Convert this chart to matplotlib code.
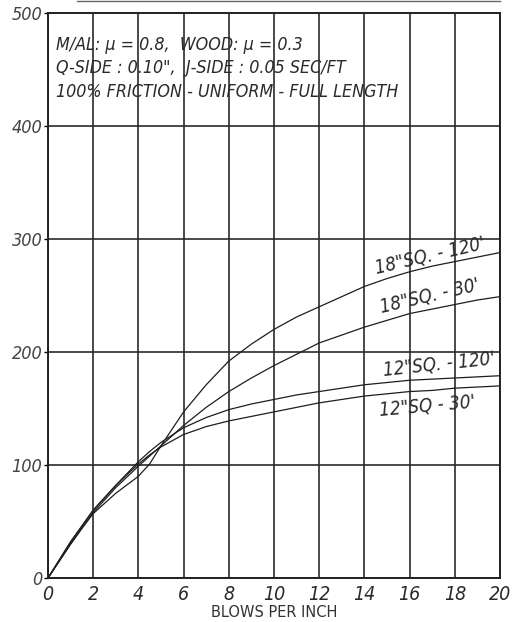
import numpy as np
import matplotlib.pyplot as plt
from matplotlib.lines import Line2D

# blows per inch (shared x for all four curves)
blows = [0, 0.5, 1, 1.5, 2, 3, 4, 4.5, 5, 6, 7, 8, 9, 10, 11, 12, 13, 14, 15, 16, 17, 18, 19, 20]

# ultimate capacity, one list per pile
sq18_120 = [0, 15, 30, 44, 57, 75, 90, 101, 117, 147, 171, 192, 207, 220, 231, 240, 249, 258, 265, 271, 276, 280, 284, 288]
sq18_30 = [0, 15, 30, 44, 58, 80, 99, 108, 117, 135, 151, 165, 177, 188, 198, 208, 215, 222, 228, 234, 238, 242, 246, 249]
sq12_120 = [0, 16, 32, 46, 60, 82, 103, 112, 120, 133, 142, 149, 154, 158, 162, 165, 168, 171, 173, 175, 176, 177, 178, 179]
sq12_30 = [0, 16, 32, 46, 60, 82, 101, 109, 116, 127, 134, 139, 143, 147, 151, 155, 158, 161, 163, 165, 166, 168, 169, 170]

labels = ["18\"SQ. - 120'", "18\"SQ. - 30'", "12\"SQ. - 120'", "12\"SQ - 30'"]

notes = ["M/AL: \u03bc = 0.8,  WOOD: \u03bc = 0.3",
         "Q-SIDE : 0.10\",  J-SIDE : 0.05 SEC/FT",
         "100% FRICTION - UNIFORM - FULL LENGTH"]

ink = '#1e1e1e'
hand = dict(style='italic', color='#2a2a2a', fontstretch='condensed')

fig = plt.figure(figsize=(5.21, 6.22), dpi=100)
ax = fig.add_axes([48 / 521, 44 / 622, 452 / 521, 565 / 622])

for ys in (sq18_120, sq18_30, sq12_120, sq12_30):
    ax.plot(blows, ys, color=ink, lw=0.9)

ax.set_xlim(0, 20)
ax.set_ylim(0, 500)
ax.set_xticks(np.arange(0, 21, 2))
ax.set_yticks(np.arange(0, 501, 100))
ax.grid(True, color='#2b2b2b', lw=1.2)
ax.set_axisbelow(True)
for s in ax.spines.values():
    s.set_linewidth(1.4)
    s.set_color('#222222')

ax.tick_params(axis='x', length=0, pad=5, labelsize=14, labelcolor='#2a2a2a')
ax.tick_params(axis='y', length=3, width=1, pad=1, labelsize=13, labelcolor='#444444')
for t in ax.get_xticklabels() + ax.get_yticklabels():
    t.set_style('italic')
    t.set_fontstretch('condensed')

ax.set_xlabel('BLOWS PER INCH', fontsize=10.5, color='#333333', labelpad=1)

# notes in the upper left corner
for i, line in enumerate(notes):
    ax.text(0.35, 472 - i * 21, line, fontsize=12.8, va='center', ha='left', **hand)

# curve labels
ax.text(16.9, 285, labels[0], fontsize=13.5, rotation=13, ha='center', va='center', **hand)
ax.text(16.9, 250, labels[1], fontsize=13.5, rotation=13, ha='center', va='center', **hand)
ax.text(17.3, 189, labels[2], fontsize=13.5, rotation=6, ha='center', va='center', **hand)
ax.text(16.8, 152, labels[3], fontsize=13.5, rotation=5, ha='center', va='center', **hand)

# rule left over at the top edge of the sheet
fig.add_artist(Line2D([77 / 521, 500 / 521], [0.999, 0.999], color='#666666', lw=1.0))

fig.savefig('out.png', dpi=100, facecolor='white')
